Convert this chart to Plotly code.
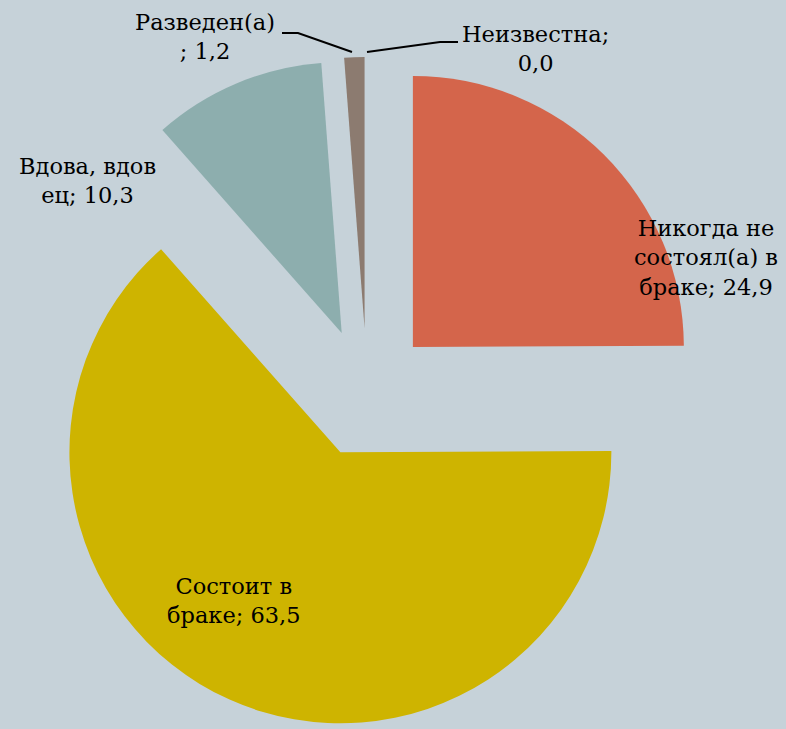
import plotly.graph_objects as go

categories = ["Никогда не состоял(а) в браке", "Состоит в браке", "Вдова, вдовец", "Разведен(а)", "Неизвестна"]
values = [24.9, 63.5, 10.3, 1.2, 0.0]
label_texts = [
    "Никогда не<br>состоял(а) в<br>браке; 24,9",
    "Состоит в<br>браке; 63,5",
    "Вдова, вдов<br>ец; 10,3",
    "Разведен(а)<br>; 1,2",
    "Неизвестна;<br>0,0",
]
colors = ["#D4654B", "#CEB400", "#8DAEAE", "#8C7B70", "#7F7F7F"]

W, H = 786, 729
BG = "#C6D2D9"
FONT = "DejaVu Serif"
FS = 22.5

def px(x):
    return x / W

def py(y):
    return 1 - y / H

fig = go.Figure(go.Pie(
    labels=categories,
    values=values,
    sort=False,
    direction="clockwise",
    rotation=0,
    pull=[0.24] * len(values),
    marker=dict(colors=colors, line=dict(width=0)),
    textinfo="none",
    hoverinfo="label+value",
    showlegend=False,
    domain=dict(x=[31 / W, 703 / W], y=[0, 672 / H]),
))

label_pos = [(706, 258), (234, 600), (87, 180), (205, 37), (535, 49)]
annotations = []
for t, (x, y) in zip(label_texts, label_pos):
    annotations.append(dict(
        x=px(x), y=py(y), xref="paper", yref="paper",
        text=t, showarrow=False, align="center",
        xanchor="center", yanchor="middle",
        font=dict(family=FONT, size=FS, color="#000000"),
    ))

shapes = [
    dict(type="path", xref="paper", yref="paper",
         path=f"M {px(282)} {py(33)} L {px(298)} {py(33)} L {px(352)} {py(52)}",
         line=dict(color="#000000", width=2)),
    dict(type="path", xref="paper", yref="paper",
         path=f"M {px(367)} {py(52)} L {px(440)} {py(42)} L {px(458)} {py(42)}",
         line=dict(color="#000000", width=2)),
]

fig.update_layout(
    width=W, height=H,
    margin=dict(l=0, r=0, t=0, b=0),
    paper_bgcolor=BG, plot_bgcolor=BG,
    annotations=annotations,
    shapes=shapes,
    font=dict(family=FONT),
)

fig.write_html(
    "out.html",
    config={"displayModeBar": False},
    post_script="document.body.style.margin='0';document.body.style.overflow='hidden';",
)
